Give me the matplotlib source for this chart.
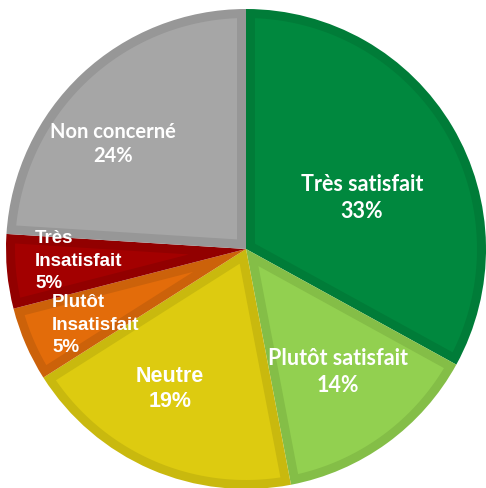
import numpy as np
import matplotlib.pyplot as plt
from matplotlib.patches import Polygon

labels = ["Très satisfait", "Plutôt satisfait", "Neutre", "Plutôt\nInsatisfait", "Très\nInsatisfait", "Non concerné"]
values = [33, 14, 19, 5, 5, 24]
colors = ["#00883E", "#92D050", "#DDCB10", "#E36C0A", "#A30000", "#A6A6A6"]
borders = ["#007C38", "#84BE47", "#C9B90E", "#CC620A", "#920000", "#979797"]

W, H = 486, 488
fig = plt.figure(figsize=(W / 100, H / 100), dpi=100)
ax = fig.add_axes([0, 0, 1, 1])

cx, cy, r = 246, H - 249, 240
d = 9  # inner border thickness (px)

# outer pie in border colours, then inset fill on top
wedges, _ = ax.pie(values, colors=borders, startangle=90, counterclock=False,
                   center=(cx, cy), radius=r, frame=True,
                   wedgeprops=dict(linewidth=0))
for w, c in zip(wedges, colors):
    t1, t2 = np.radians(w.theta1), np.radians(w.theta2)
    a = (t2 - t1) / 2
    mid = (t1 + t2) / 2
    off = d / np.sin(a) if a < np.pi / 2 else d
    apex = (cx + off * np.cos(mid), cy + off * np.sin(mid))
    delta = np.arcsin(d / (r - d))
    th = np.linspace(t1 + delta, t2 - delta, 100)
    pts = [apex] + list(zip(cx + (r - d) * np.cos(th), cy + (r - d) * np.sin(th)))
    ax.add_patch(Polygon(pts, closed=True, facecolor=c, edgecolor="none"))

ax.set_xlim(0, W)
ax.set_ylim(0, H)
ax.set_aspect("equal")
ax.axis("off")

calibri = dict(family="Lato", fontweight="bold", color="white", linespacing=1.3)
arial = dict(family="Liberation Sans", fontweight="bold", color="white")
ax.text(362, H - 198, f"{labels[0]}\n{values[0]}%", ha="center", va="center", fontsize=15.5, **calibri)
ax.text(338, H - 372, f"{labels[1]}\n{values[1]}%", ha="center", va="center", fontsize=15.5, **calibri)
ax.text(170, H - 389, f"{labels[2]}\n{values[2]}%", ha="center", va="center", fontsize=15.5,
        linespacing=1.3, **arial)
ax.text(52, H - 325, f"{labels[3]}\n{values[3]}%", ha="left", va="center", fontsize=13.5,
        linespacing=1.45, **arial)
ax.text(35, H - 261, f"{labels[4]}\n{values[4]}%", ha="left", va="center", fontsize=13.5,
        linespacing=1.45, **arial)
ax.text(113, H - 144, f"{labels[5]}\n{values[5]}%", ha="center", va="center", fontsize=14.5, **calibri)

fig.savefig("out.png", dpi=100)
